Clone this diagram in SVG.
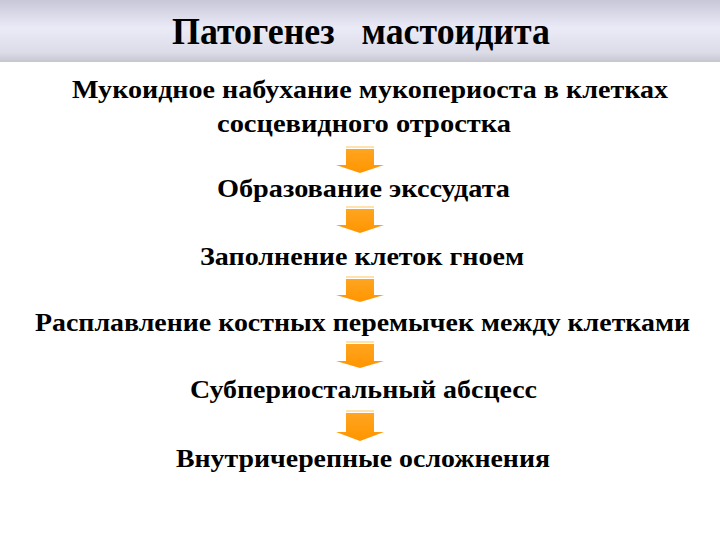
<svg xmlns="http://www.w3.org/2000/svg" width="720" height="540" viewBox="0 0 720 540">
<defs>
<linearGradient id="bar" x1="0" y1="0" x2="0" y2="1">
<stop offset="0" stop-color="#c8c7d8"/>
<stop offset="0.45" stop-color="#ebeaf7"/>
<stop offset="0.85" stop-color="#dcdce8"/>
<stop offset="1" stop-color="#c6c6d0"/>
</linearGradient>
<linearGradient id="arr" x1="0" y1="0" x2="0" y2="1">
<stop offset="0" stop-color="#ffa520"/>
<stop offset="1" stop-color="#ff9500"/>
</linearGradient>
<style>
.t{font-family:"Liberation Serif","Times New Roman",serif;font-weight:bold;fill:#000;text-anchor:middle}
.b{font-size:26px}
.a{fill:url(#arr)}
.h{stroke:#ffd890;stroke-width:1.5}
</style>
</defs>
<rect width="720" height="540" fill="#fff"/>
<g id="title">
<rect x="0" y="0" width="720" height="62" fill="url(#bar)"/>
<text class="t" x="361" y="44" font-size="37" textLength="378" lengthAdjust="spacingAndGlyphs" xml:space="preserve">Патогенез   мастоидита</text>
</g>
<g id="n1"><text class="t b" x="370" y="98" textLength="596" lengthAdjust="spacingAndGlyphs">Мукоидное набухание мукопериоста в клетках</text>
<text class="t b" x="364" y="132" textLength="294" lengthAdjust="spacingAndGlyphs">сосцевидного отростка</text></g>
<g id="n2"><text class="t b" x="363.5" y="197" textLength="293" lengthAdjust="spacingAndGlyphs">Образование экссудата</text></g>
<g id="n3"><text class="t b" x="362" y="265" textLength="324" lengthAdjust="spacingAndGlyphs">Заполнение клеток гноем</text></g>
<g id="n4"><text class="t b" x="362.5" y="331" textLength="655" lengthAdjust="spacingAndGlyphs">Расплавление костных перемычек между клетками</text></g>
<g id="n5"><text class="t b" x="363.5" y="398" textLength="347" lengthAdjust="spacingAndGlyphs">Субпериостальный абсцесс</text></g>
<g id="n6"><text class="t b" x="363" y="467" textLength="374" lengthAdjust="spacingAndGlyphs">Внутричерепные осложнения</text></g>
<g id="connectors">
<line class="h" x1="346" y1="147" x2="374" y2="147"/>
<polygon class="a" points="346,149 374,149 374,165 384,165 360,173 336,165 346,165"/>
<line class="h" x1="346" y1="207" x2="374" y2="207"/>
<polygon class="a" points="346,209 374,209 374,225 384,225 360,233 336,225 346,225"/>
<line class="h" x1="346" y1="277" x2="374" y2="277"/>
<polygon class="a" points="346,279 374,279 374,295 384,295 360,302 336,295 346,295"/>
<line class="h" x1="346" y1="342" x2="374" y2="342"/>
<polygon class="a" points="346,344 374,344 374,361 384,361 360,368 336,361 346,361"/>
<line class="h" x1="346" y1="411" x2="374" y2="411"/>
<polygon class="a" points="346,413 374,413 374,432 384,432 360,441 336,432 346,432"/>
</g>
</svg>
